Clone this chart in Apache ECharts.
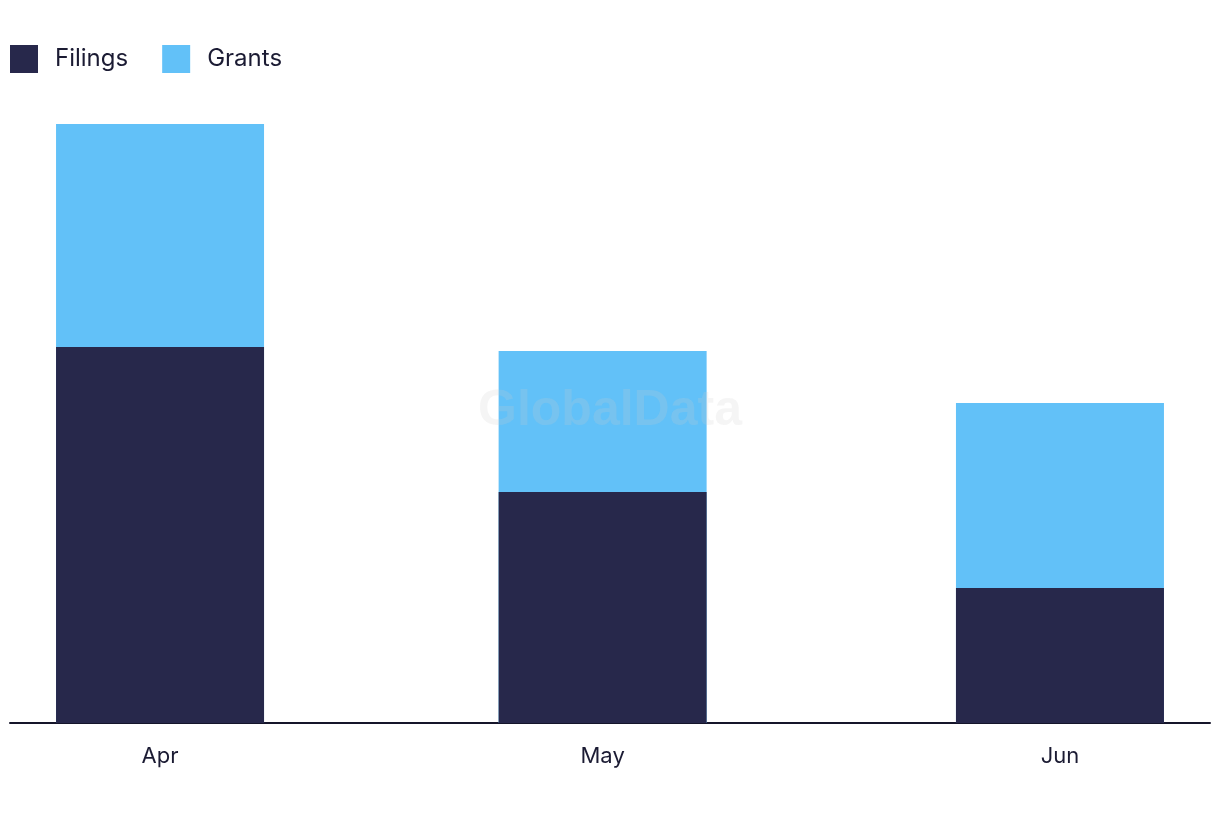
<!DOCTYPE html>
<html>
<head>
<meta charset="utf-8">
<script src="https://cdn.jsdelivr.net/npm/echarts@6/dist/echarts.min.js"></script>
<style>
html,body{margin:0;padding:0;background:#fff;}
#chart{width:1220px;height:822px;}
</style>
</head>
<body>
<div id="chart"></div>
<script>
// Data
var months = ['2024-04-01', '2024-05-01', '2024-06-01'];
var monthLabels = ['Apr', 'May', 'Jun'];
var filings = [376, 231, 135];
var grants = [223, 141, 185];
var seriesNames = ['Filings', 'Grants'];

var DAY = 86400000;
// day numbers (days since epoch) for each month start
var days = months.map(function (d) { return Math.round(new Date(d + 'T00:00:00Z').getTime() / DAY); });
var pad = 10.17;
// stacked top of Grants = Filings + Grants
var totals = filings.map(function (f, i) { return f + grants[i]; });

var chart = echarts.init(document.getElementById('chart'));
var font = 'Inter, "Noto Sans", sans-serif';
chart.setOption({
  animation: false,
  textStyle: { fontFamily: font },
  legend: {
    left: 10, top: 45, padding: 0,
    icon: 'rect',
    itemWidth: 28, itemHeight: 28,
    itemGap: 34,
    textStyle: { fontSize: 24, color: '#1b1b33', fontFamily: font, padding: [0, 0, 0, 12] },
    data: seriesNames
  },
  grid: { left: 10, right: 10, top: 123, bottom: 99, containLabel: false },
  xAxis: {
    type: 'value',
    min: days[0] - pad,
    max: days[2] + pad,
    axisLine: { show: true, onZero: false, lineStyle: { color: '#15152a', width: 2 } },
    axisTick: { show: false },
    splitLine: { show: false },
    axisLabel: {
      customValues: days,
      margin: 22,
      fontSize: 22,
      color: '#1b1b33',
      fontFamily: font,
      formatter: function (v) {
        var i = days.indexOf(Math.round(v));
        return i >= 0 ? monthLabels[i] : '';
      }
    }
  },
  yAxis: {
    type: 'value', min: 0, max: 600,
    show: false,
    splitLine: { show: false }
  },
  graphic: [{
    type: 'text',
    left: 'center', top: 386,
    z: 100,
    style: {
      text: 'GlobalData',
      font: 'bold 50px "Liberation Sans", Arial, sans-serif',
      fill: 'rgba(205,205,205,0.2)'
    }
  }],
  series: [
    {
      name: seriesNames[1], type: 'bar', barWidth: 208, barGap: '-100%', z: 1,
      itemStyle: { color: '#62c1f8' },
      data: days.map(function (t, i) { return [t, totals[i]]; })
    },
    {
      name: seriesNames[0], type: 'bar', barWidth: 208, barGap: '-100%', z: 2,
      itemStyle: { color: '#27284b' },
      data: days.map(function (t, i) { return [t, filings[i]]; })
    }
  ]
});
</script>
</body>
</html>
